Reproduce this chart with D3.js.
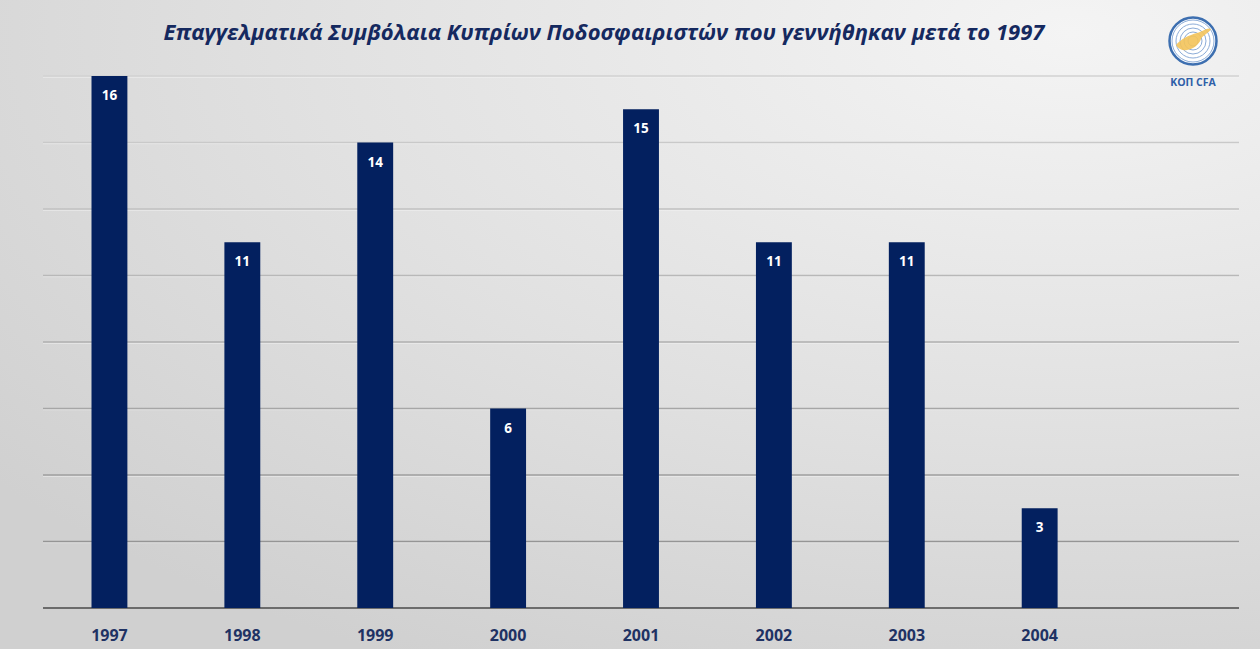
<!DOCTYPE html>
<html><head><meta charset="utf-8">
<script src="https://cdn.jsdelivr.net/npm/d3@7"></script>
<style>html,body{margin:0;padding:0;overflow:hidden;background:#e0e0e0}</style>
</head><body><svg id="c" width="1260" height="649"></svg>
<script>
const years = ["1997","1998","1999","2000","2001","2002","2003","2004"];
const contracts = [16, 11, 14, 6, 15, 11, 11, 3];
const gridTicks = [0, 2, 4, 6, 8, 10, 12, 14, 16];
const title = "Επαγγελματικά Συμβόλαια Κυπρίων Ποδοσφαιριστών που γεννήθηκαν μετά το 1997";

const W = 1260, H = 649;
const svg = d3.select("#c");
const defs = svg.append("defs");
const bg = defs.append("radialGradient").attr("id","bg")
  .attr("cx","0.85").attr("cy","0.05").attr("r","1.1");
bg.append("stop").attr("offset","0").attr("stop-color","#f4f4f4");
bg.append("stop").attr("offset","0.55").attr("stop-color","#e1e1e1");
bg.append("stop").attr("offset","1").attr("stop-color","#d0d0d0");
svg.append("rect").attr("width",W).attr("height",H).attr("fill","url(#bg)");

const m = {l:43, r:21, t:76, b:41};
const x = d3.scaleBand().domain(years.concat(["_"])).range([m.l, W - m.r]).paddingInner(0.73).paddingOuter(0.365);
const y = d3.scaleLinear().domain([0, 16]).range([H - m.b, m.t]);

const gridCol = d3.interpolateRgb("#8c8c8c", "#d2d2d2");
const g = svg.append("g");
gridTicks.filter(t => t > 0).forEach(t => {
  g.append("line").attr("x1", m.l).attr("x2", W - m.r)
    .attr("y1", y(t) + 1.2).attr("y2", y(t) + 1.2)
    .attr("stroke", "#f4f4f4").attr("stroke-width", 1).attr("opacity", 0.7);
  g.append("line").attr("x1", m.l).attr("x2", W - m.r)
    .attr("y1", y(t)).attr("y2", y(t))
    .attr("stroke", gridCol(t / 16)).attr("stroke-width", 1.3);
});
g.append("line").attr("x1", m.l).attr("x2", W - m.r)
  .attr("y1", y(0)).attr("y2", y(0)).attr("stroke", "#4a4a4a").attr("stroke-width", 1.5);

const bars = svg.append("g");
bars.selectAll("rect").data(years).join("rect")
  .attr("x", d => x(d)).attr("width", x.bandwidth())
  .attr("y", (d,i) => y(contracts[i])).attr("height", (d,i) => y(0) - y(contracts[i]))
  .attr("fill", "#03205f");
bars.selectAll("text").data(years).join("text")
  .attr("x", d => x(d) + x.bandwidth()/2)
  .attr("y", (d,i) => y(contracts[i]) + 24)
  .attr("text-anchor","middle").attr("fill","#ffffff")
  .attr("font-family","'Open Sans', sans-serif").attr("font-weight","bold").attr("font-size",13.5)
  .text((d,i) => contracts[i]);

const xa = svg.append("g").attr("transform", `translate(0,${y(0)})`)
  .call(d3.axisBottom(x).tickSize(0).tickPadding(0).tickFormat(d => years.includes(d) ? d : ""));
xa.select(".domain").remove();
xa.selectAll("text").attr("dy", 33)
  .attr("font-family","'Open Sans', sans-serif").attr("font-weight","bold").attr("font-size",16)
  .attr("fill","#1f3263");

svg.append("text").attr("x", 604).attr("y", 40).attr("text-anchor","middle")
  .attr("font-family","'Open Sans', sans-serif").attr("font-weight","bold").attr("font-style","italic")
  .attr("font-size",22).attr("fill","#15295f").text(title);

// logo
const lg = svg.append("g").attr("transform","translate(1193,41)");
lg.append("circle").attr("r",23.5).attr("fill","#ffffff").attr("stroke","#3d6fb0").attr("stroke-width",2.5);
[5,9,13,17,21].forEach(r => lg.append("circle").attr("r",r).attr("fill","none").attr("stroke","#7fa3d2").attr("stroke-width",0.9));
lg.append("path").attr("d","M-17,4 C-12,-2 -4,-6 4,-8 C10,-10 15,-14 18,-12 C16,-8 10,-6 8,-2 C6,4 0,8 -6,9 C-10,10 -15,8 -17,4 Z")
  .attr("fill","#f3c35a").attr("opacity",0.9);
svg.append("text").attr("x",1193).attr("y",86).attr("text-anchor","middle")
  .attr("font-family","'Open Sans', sans-serif").attr("font-weight","bold").attr("font-size",10.5)
  .attr("fill","#2f5fa8").text("ΚΟΠ CFA");
</script></body></html>
